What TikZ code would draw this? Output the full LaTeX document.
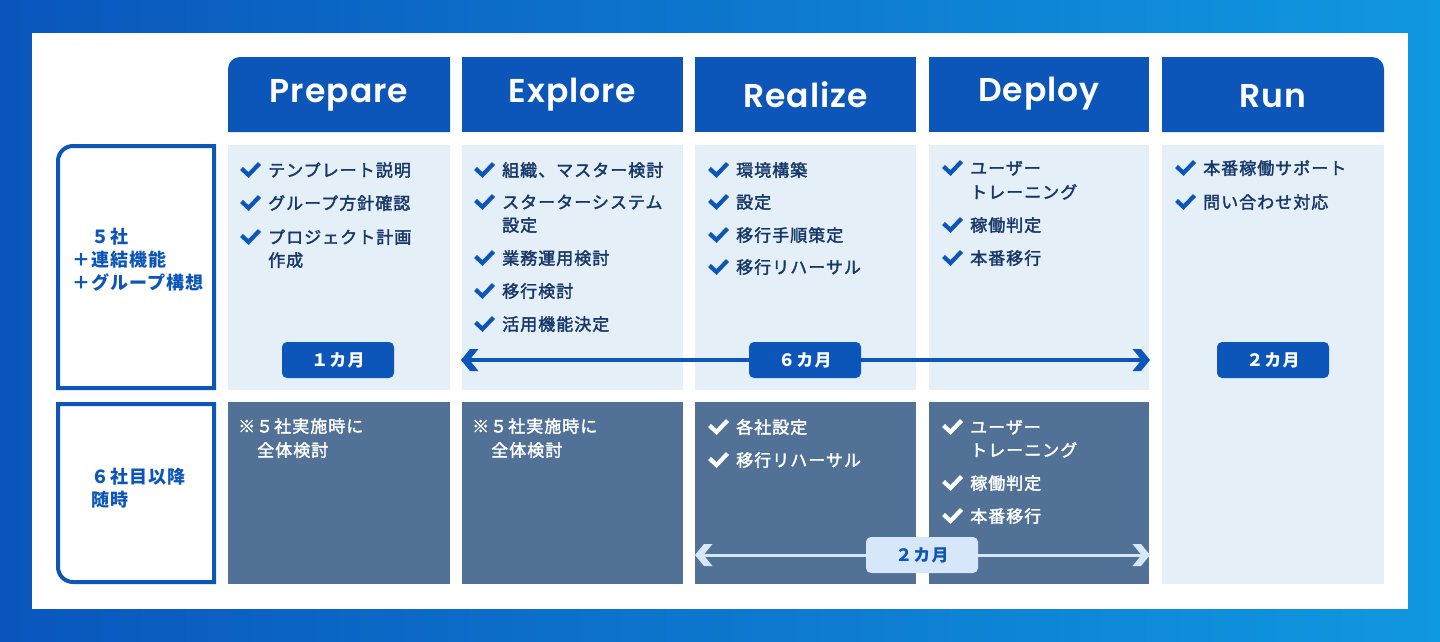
\documentclass[tikz,border=0pt]{standalone}
\usepackage{fontspec}
\newfontfamily\jp{Noto Sans CJK JP}[LetterSpace=6]
\newfontfamily\jpm{Noto Sans CJK JP}[LetterSpace=6, FakeBold=2]
\newfontfamily\hd{Poppins SemiBold}[LetterSpace=3]
\definecolor{hdrc}{RGB}{11,86,184}
\definecolor{lightc}{RGB}{228,239,247}
\definecolor{darkc}{RGB}{82,113,150}
\definecolor{navy}{RGB}{22,55,105}
\definecolor{pale}{RGB}{214,231,250}
\definecolor{bgl}{RGB}{10,86,188}
\definecolor{bgr}{RGB}{16,152,224}
\tikzset{
  hdtxt/.style={anchor=base, text=white, inner sep=0pt, font=\hd\fontsize{33}{33}\selectfont},
  item/.style={anchor=base west, inner sep=0pt, text=navy, font=\jpm\fontsize{17}{24}\selectfont},
  itemw/.style={item, text=white},
  lbl/.style={anchor=west, align=left, inner sep=0pt, text=hdrc, font=\jp\bfseries\fontsize{18}{23}\selectfont},
  pill/.style={fill=hdrc, text=white, rounded corners=5pt, minimum width=112pt, minimum height=36pt, inner sep=0pt, font=\jp\bfseries\fontsize{17}{17}\selectfont},
  pillpale/.style={pill, fill=pale, text=hdrc},
  span/.style={draw=hdrc, line width=3.5pt, shorten <=8pt, shorten >=8pt},
  spanpale/.style={span, draw=pale, line width=3pt},
  chk/.pic={\draw[#1, line width=4.2pt, line cap=butt, line join=miter] (-26.5,-8) -- (-19.5,-1.5) -- (-8.5,-13);},
  chev/.pic={\fill[#1] (0,0) -- (-9,-11) -- (-17.5,-11) -- (-8.5,0) -- (-17.5,11) -- (-9,11) -- cycle;},
  framebox/.style={draw=hdrc, line width=4pt},
}
% name, x, y-centre, text, style, check colour
\newcommand\itm[6]{\node[#5] (#1) at (#2,#3+6.5) {#4};\pic at (#2,#3+6.5) {chk=#6};}
\newcommand\cont[5]{\node[#5] (#1) at (#2,#3+6.5) {#4};}
\begin{document}
\begin{tikzpicture}[x=1pt,y=-1pt]
\useasboundingbox (0,0) rectangle (1440,641);
% background
\shade[left color=bgl, right color=bgr] (0,0) rectangle (1440,641);
\fill[white] (32,33) rectangle (1408,609);
% header tabs
\fill[hdrc] (228,132) -- (228,69) arc[start angle=180,end angle=270,radius=12] -- (450,57) -- (450,132) -- cycle;
\fill[hdrc] (462,57) rectangle (683,132);
\fill[hdrc] (695,57) rectangle (916,132);
\fill[hdrc] (929,57) rectangle (1149,132);
\fill[hdrc] (1162,132) -- (1162,57) -- (1372,57) arc[start angle=270,end angle=360,radius=12] -- (1384,132) -- cycle;
\node[hdtxt] (tPrep) at (339,102) {Prepare};
\node[hdtxt] (tExpl) at (572.5,102) {Explore};
\node[hdtxt] (tReal) at (805.5,107.5) {Realize};
\node[hdtxt] (tDepl) at (1039,101.5) {Deploy};
\node[hdtxt] (tRun) at (1273,107.5) {Run};
% cells
\fill[lightc] (228,145) rectangle (450,390);
\fill[lightc] (462,145) rectangle (683,390);
\fill[lightc] (695,145) rectangle (916,390);
\fill[lightc] (929,145) rectangle (1149,390);
\fill[lightc] (1162,145) rectangle (1384,584);
\fill[darkc] (228,402) rectangle (450,584);
\fill[darkc] (462,402) rectangle (683,584);
\fill[darkc] (695,402) rectangle (916,584);
\fill[darkc] (929,402) rectangle (1149,584);
% left frames
\draw[framebox] (214,388) -- (58,388) -- (58,161) arc[start angle=180,end angle=270,radius=15] -- (214,146) -- cycle;
\draw[framebox] (214,404) -- (58,404) -- (58,567) arc[start angle=180,end angle=90,radius=15] -- (214,582) -- cycle;
\node[lbl] (lTop) at (72,260) {\char"3000５社\\＋連結機能\\＋グループ構想};
\node[lbl] (lBot) at (91,488.5) {６社目以降\\随時};
% Prepare
\itm{p1}{268}{170}{テンプレート説明}{item}{hdrc}
\itm{p2}{268}{203}{グループ方針確認}{item}{hdrc}
\itm{p3}{268}{237}{プロジェクト計画}{item}{hdrc}
\cont{p3b}{268}{260}{作成}{item}
% Explore
\itm{e1}{502}{170}{組織、マスター検討}{item}{hdrc}
\itm{e2}{502}{202}{スターターシステム}{item}{hdrc}
\cont{e2b}{502}{225}{設定}{item}
\itm{e3}{502}{258}{業務運用検討}{item}{hdrc}
\itm{e4}{502}{291}{移行検討}{item}{hdrc}
\itm{e5}{502}{324}{活用機能決定}{item}{hdrc}
% Realize
\itm{r1}{736}{170}{環境構築}{item}{hdrc}
\itm{r2}{736}{202}{設定}{item}{hdrc}
\itm{r3}{736}{235}{移行手順策定}{item}{hdrc}
\itm{r4}{736}{267}{移行リハーサル}{item}{hdrc}
% Deploy
\itm{d1}{970}{168}{ユーザー}{item}{hdrc}
\cont{d1b}{970}{192}{トレーニング}{item}
\itm{d2}{970}{225}{稼働判定}{item}{hdrc}
\itm{d3}{970}{258}{本番移行}{item}{hdrc}
% Run
\itm{u1}{1203}{168}{本番稼働サポート}{item}{hdrc}
\itm{u2}{1203}{202}{問い合わせ対応}{item}{hdrc}
% bottom row
\cont{bp1}{238}{426}{※５社実施時に}{itemw}
\cont{bp2}{257}{450}{全体検討}{itemw}
\cont{be1}{472}{426}{※５社実施時に}{itemw}
\cont{be2}{491}{450}{全体検討}{itemw}
\itm{br1}{736}{427}{各社設定}{itemw}{white}
\itm{br2}{736}{460}{移行リハーサル}{itemw}{white}
\itm{bd1}{970}{427}{ユーザー}{itemw}{white}
\cont{bd1b}{970}{450}{トレーニング}{itemw}
\itm{bd2}{970}{483}{稼働判定}{itemw}{white}
\itm{bd3}{970}{516}{本番移行}{itemw}{white}
% spans
\coordinate (s6L) at (461,360);
\coordinate (s6R) at (1150,360);
\draw[span] (s6L) -- (s6R);
\pic[rotate=180] at (s6L) {chev=hdrc};
\pic at (s6R) {chev=hdrc};
\coordinate (s2L) at (695,555);
\coordinate (s2R) at (1150,555);
\draw[spanpale] (s2L) -- (s2R);
\pic[rotate=180] at (s2L) {chev=pale};
\pic at (s2R) {chev=pale};
\node[pill] (m1) at (338,360) {１カ月};
\node[pill] (m6) at (805,360) {６カ月};
\node[pill] (m2) at (1273,360) {２カ月};
\node[pillpale] (m2b) at (922,555) {２カ月};
\end{tikzpicture}
\end{document}
